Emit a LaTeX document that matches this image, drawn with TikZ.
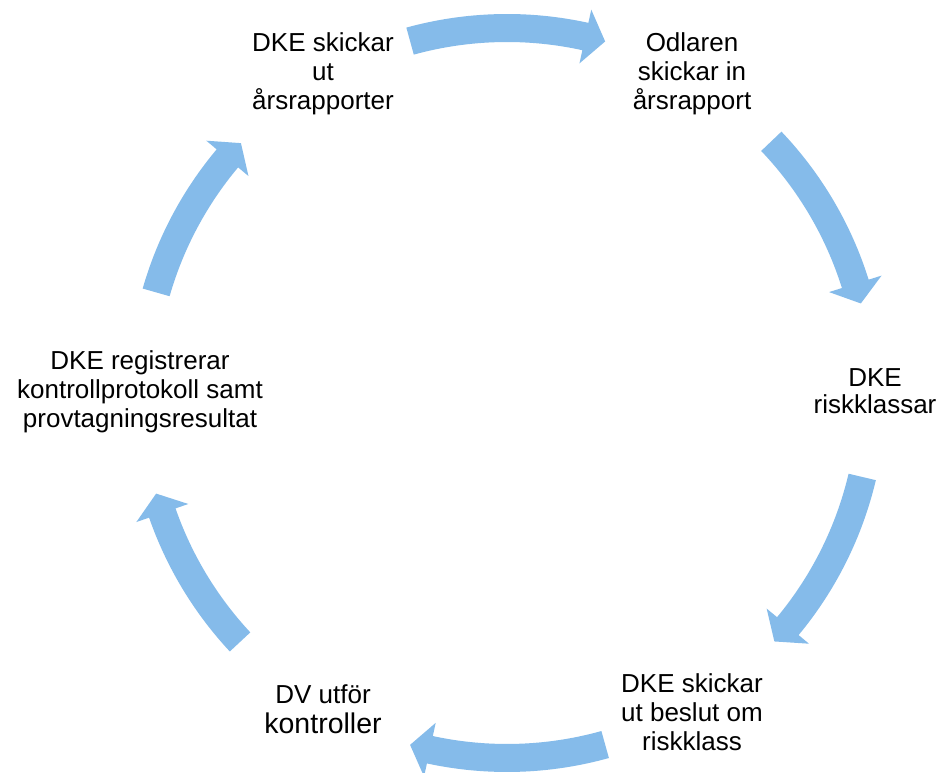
\documentclass[tikz,border=0pt]{standalone}
\usepackage{fontspec}
\setmainfont{Liberation Sans}
\definecolor{arrowblue}{RGB}{133,187,234}
\tikzset{
  lbl/.style={align=center, inner sep=0pt, text=black, font=\fontsize{26}{29}\selectfont},
  cyclefill/.style={fill=arrowblue, draw=none}
}
% #1 = tail angle, #2 = tip angle (clockwise, #1 > #2)
\newcommand{\cyclearrow}[2]{%
  \fill[cyclefill] ({#1}:379pt) arc[start angle={#1}, end angle={#2+3.2}, radius=379pt]
    -- ({#2+3.2}:392.5pt) -- ({#2}:365pt) -- ({#2+3.2}:337.5pt) -- ({#2+3.2}:351pt)
    arc[start angle={#2+3.2}, end angle={#1}, radius=351pt] -- cycle;}
\begin{document}
\begin{tikzpicture}[x=1pt,y=1pt]
\useasboundingbox (0,0) rectangle (943,773);
\fill[white] (0,0) rectangle (943,773);
\begin{scope}[shift={(507,380)}]
  \cyclearrow{105.4}{74.4}
  \cyclearrow{43.6}{14.2}
  \cyclearrow{-13.3}{-42.9}
  \cyclearrow{-74.4}{-105.4}
  \cyclearrow{223}{196}
  \cyclearrow{164}{136.8}
\end{scope}
\node[lbl] (tl) at (323,699) {DKE skickar\\ut\\årsrapporter};
\node[lbl] (tr) at (692,699) {Odlaren\\skickar in\\årsrapport};
\node[lbl, font=\fontsize{26}{27}\selectfont] (r) at (875,382) {DKE\\riskklassar};
\node[lbl] (br) at (692,61) {DKE skickar\\ut beslut om\\riskklass};
\node[lbl, font=\fontsize{26}{30}\selectfont] (bl) at (323,64) {DV utför\\{\fontsize{28.5}{30}\selectfont kontroller}};
\node[lbl] (l) at (140,381) {DKE registrerar\\kontrollprotokoll samt\\provtagningsresultat};
\end{tikzpicture}
\end{document}
